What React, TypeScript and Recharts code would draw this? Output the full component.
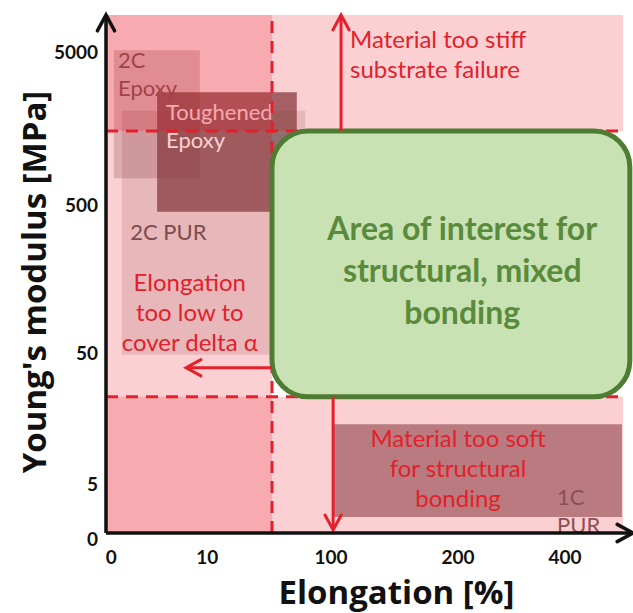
import React from 'react'
import {
  ComposedChart, XAxis, YAxis, ReferenceArea, ReferenceLine, ReferenceDot, Scatter
} from 'recharts'

// Schematic axes: tick positions are in plot units, labels are the printed values
const X_TICKS = [0.1, 1.92, 4.27, 6.68, 8.71]
const X_TICK_LABELS = ['0', '10', '100', '200', '400']
const Y_TICKS = [0, 0.93, 3.47, 6.33, 9.27]
const Y_TICK_LABELS = ['0', '5', '50', '500', '5000']

const X_END = 10
const Y_END = 10
const BAND_END = 9.81

// limits of the usable window
const ELONGATION_MIN = 3.15
const MODULUS_MAX = 7.76
const MODULUS_MIN = 2.63

const ZONES = [
  { id: 'stiff', x1: 0, x2: BAND_END, y1: MODULUS_MAX, y2: Y_END },
  { id: 'soft', x1: 0, x2: BAND_END, y1: 0, y2: MODULUS_MIN },
  { id: 'lowElongation', x1: 0, x2: ELONGATION_MIN, y1: 0, y2: Y_END },
]

const MATERIALS = [
  { name: '2C PUR', x1: 0.3, x2: 3.78, y1: 3.44, y2: 8.15 },
  { name: '2C Epoxy', x1: 0.15, x2: 1.78, y1: 6.85, y2: 9.32 },
  { name: 'Toughened Epoxy', x1: 0.97, x2: 3.62, y1: 6.2, y2: 8.51 },
  { name: '1C PUR', x1: 4.31, x2: 9.79, y1: 0.31, y2: 2.1 },
]

const MATERIAL_LABELS = [
  { name: '2C Epoxy', lines: ['2C', 'Epoxy'], x: 0.23, y: 8.86 },
  { name: 'Toughened Epoxy', lines: ['Toughened', 'Epoxy'], x: 1.14, y: 7.86 },
  { name: '2C PUR', lines: ['2C PUR'], x: 0.46, y: 5.81 },
  { name: '1C PUR', lines: ['1C', 'PUR'], x: 8.56, y: 0.41 },
]

const ZONE_LABELS = [
  { id: 'stiff', lines: ['Material too stiff', 'substrate failure'], x: 4.63, y: 9.23 },
  { id: 'lowElongation', lines: ['Elongation', 'too low to', 'cover delta α'], x: 1.59, y: 4.25 },
  { id: 'soft', lines: ['Material too soft', 'for structural', 'bonding'], x: 6.68, y: 1.25 },
]

const ARROWS = [
  { from: { x: 4.46, y: MODULUS_MAX }, to: { x: 4.46, y: Y_END } },
  { from: { x: ELONGATION_MIN, y: 3.19 }, to: { x: 1.52, y: 3.19 } },
  { from: { x: 4.31, y: MODULUS_MIN }, to: { x: 4.31, y: 0.06 } },
]

const TARGET = { x1: ELONGATION_MIN, x2: 9.94, y1: MODULUS_MIN, y2: MODULUS_MAX }
const TARGET_LABEL = [{ x: 6.76, y: 5.06 }]
const TARGET_LINES = ['Area of interest for', 'structural, mixed', 'bonding']

// styles
const FONT = 'Lato, "Open Sans", sans-serif'
const TITLE_FONT = '"Open Sans", Lato, sans-serif'
const RED = '#e3202b'
const BAND_FILL = '#ea0317'
const BAND_OPACITY = 0.19
const MATERIAL_FILL = '#6e4648'
const MATERIAL_OPACITY: Record<string, number> = {
  '2C PUR': 0.17, '2C Epoxy': 0.24, 'Toughened Epoxy': 0.74, '1C PUR': 0.56,
}
const MATERIAL_TEXT: Record<string, string> = {
  '2C PUR': '#645a5c', '2C Epoxy': '#7c6266', 'Toughened Epoxy': '#ffffff', '1C PUR': '#766267',
}
const ZONE_ANCHOR: Record<string, 'start' | 'middle'> = {
  stiff: 'start', lowElongation: 'middle', soft: 'middle',
}

function TextBlock({ cx, cy, lines, size, lineHeight, color, anchor = 'start', weight = 400 }: any) {
  const top = cy - ((lines.length - 1) * lineHeight) / 2
  return (
    <text textAnchor={anchor} fill={color} fontSize={size} fontWeight={weight} fontFamily={FONT}>
      {lines.map((l: string, i: number) => (
        <tspan key={i} x={cx} y={top + i * lineHeight} dy="0.35em">{l}</tspan>
      ))}
    </text>
  )
}

function arrowShape(color: string, width: number, head: number) {
  return (p: any) => {
    const { x1, y1, x2, y2 } = p
    const a = Math.atan2(y2 - y1, x2 - x1)
    const s = 0.5
    const lx = x2 - head * Math.cos(a - s)
    const ly = y2 - head * Math.sin(a - s)
    const rx = x2 - head * Math.cos(a + s)
    const ry = y2 - head * Math.sin(a + s)
    return (
      <g>
        <line x1={x1} y1={y1} x2={x2} y2={y2} stroke={color} strokeWidth={width} />
        <polyline points={`${lx},${ly} ${x2},${y2} ${rx},${ry}`} fill="none"
          stroke={color} strokeWidth={width} strokeLinecap="round" />
      </g>
    )
  }
}

const XTick = ({ x, y, payload }: any) => (
  <text x={x} y={y} dy="0.71em" textAnchor="middle" fontFamily={FONT} fontWeight={700} fontSize={19} fill="#111">
    {X_TICK_LABELS[X_TICKS.indexOf(payload.value)]}
  </text>
)

const YTick = ({ x, y, payload }: any) => (
  <text x={x} y={y} dy={payload.value === 0 ? 13 : 6.5} textAnchor="end" fontFamily={FONT} fontWeight={700} fontSize={19} fill="#111">
    {Y_TICK_LABELS[Y_TICKS.indexOf(payload.value)]}
  </text>
)

const YTitle = (props: any) => {
  const vb = props.viewBox || { x: 0, y: 15, width: 106, height: 518 }
  const cx = vb.x + 34
  const cy = vb.y + vb.height / 2 + 8
  return (
    <text x={cx} y={cy} dy="0.35em" transform={`rotate(-90 ${cx} ${cy})`} textAnchor="middle"
      fontFamily={TITLE_FONT} fontWeight={700} fontSize={33} fill="#111">
      Young's modulus [MPa]
    </text>
  )
}

const XTitle = (props: any) => {
  const vb = props.viewBox || { x: 106, y: 533, width: 527, height: 80 }
  return (
    <text x={vb.x + vb.width / 2 + 27} y={vb.y + 59} dy="0.35em" textAnchor="middle"
      fontFamily={TITLE_FONT} fontWeight={700} fontSize={33} fill="#111">
      Elongation [%]
    </text>
  )
}

export default function App() {
  let z = 10
  const nz = () => (z += 1)
  return (
    <div style={{ position: 'absolute', left: 0, top: 0, background: '#fff' }}>
      <ComposedChart width={633} height={613} margin={{ top: 15, right: 0, bottom: 0, left: 0 }}>
        <XAxis type="number" dataKey="x" domain={[0, X_END]} ticks={X_TICKS} interval={0}
          axisLine={false} tickLine={false} tickSize={0} tickMargin={18} height={80}
          tick={<XTick />} label={{ content: XTitle }} />
        <YAxis type="number" dataKey="y" domain={[0, Y_END]} ticks={Y_TICKS} interval={0}
          axisLine={false} tickLine={false} tickSize={0} tickMargin={8} width={106}
          tick={<YTick />} label={{ content: YTitle }} />

        {MATERIALS.map((m) => (
          <ReferenceArea key={m.name} x1={m.x1} x2={m.x2} y1={m.y1} y2={m.y2} zIndex={nz()}
            fill={MATERIAL_FILL} fillOpacity={MATERIAL_OPACITY[m.name]} stroke="none" />
        ))}
        {MATERIAL_LABELS.map((m) => (
          <ReferenceDot key={m.name} x={m.x} y={m.y} r={1} zIndex={nz()}
            shape={(p: any) => (
              <TextBlock cx={p.cx} cy={p.cy} lines={m.lines} size={22} lineHeight={28}
                color={MATERIAL_TEXT[m.name]} />
            )} />
        ))}

        {ZONES.map((b) => (
          <ReferenceArea key={b.id} x1={b.x1} x2={b.x2} y1={b.y1} y2={b.y2} zIndex={nz()}
            fill={BAND_FILL} fillOpacity={BAND_OPACITY} stroke="none" />
        ))}

        <ReferenceLine segment={[{ x: 0, y: MODULUS_MAX }, { x: BAND_END, y: MODULUS_MAX }]} zIndex={nz()}
          stroke={RED} strokeWidth={3} strokeDasharray="12 8" />
        <ReferenceLine segment={[{ x: 0, y: MODULUS_MIN }, { x: BAND_END, y: MODULUS_MIN }]} zIndex={nz()}
          stroke={RED} strokeWidth={3} strokeDasharray="12 8" />
        <ReferenceLine segment={[{ x: ELONGATION_MIN, y: 0 }, { x: ELONGATION_MIN, y: Y_END }]} zIndex={nz()}
          stroke={RED} strokeWidth={3} strokeDasharray="12 8" />

        <ReferenceArea x1={TARGET.x1} x2={TARGET.x2} y1={TARGET.y1} y2={TARGET.y2} zIndex={nz()}
          shape={(p: any) => (
            <rect x={p.x} y={p.y} width={p.width} height={p.height} rx={36} ry={36}
              fill="#c8e2b4" stroke="#4e7c33" strokeWidth={5} />
          )} />

        {ZONE_LABELS.map((t) => (
          <ReferenceDot key={t.id} x={t.x} y={t.y} r={1} zIndex={nz()}
            shape={(p: any) => (
              <TextBlock cx={p.cx} cy={p.cy} lines={t.lines} size={24} lineHeight={30}
                color={RED} anchor={ZONE_ANCHOR[t.id]} />
            )} />
        ))}

        {ARROWS.map((a, i) => (
          <ReferenceLine key={i} segment={[a.from, a.to]} zIndex={nz()}
            shape={arrowShape(RED, 3, 17)} />
        ))}

        <ReferenceLine segment={[{ x: 0, y: 0 }, { x: 0, y: Y_END }]} zIndex={nz()}
          shape={arrowShape('#111', 3.5, 18)} />
        <ReferenceLine segment={[{ x: 0, y: 0 }, { x: X_END, y: 0 }]} zIndex={nz()}
          shape={arrowShape('#111', 3.5, 18)} />

        <Scatter data={TARGET_LABEL} isAnimationActive={false} zIndex={nz()}
          shape={(p: any) => (
            <TextBlock cx={p.cx} cy={p.cy} lines={TARGET_LINES} size={32} lineHeight={42}
              color="#5a8a3b" anchor="middle" weight={700} />
          )} />
      </ComposedChart>
    </div>
  )
}
